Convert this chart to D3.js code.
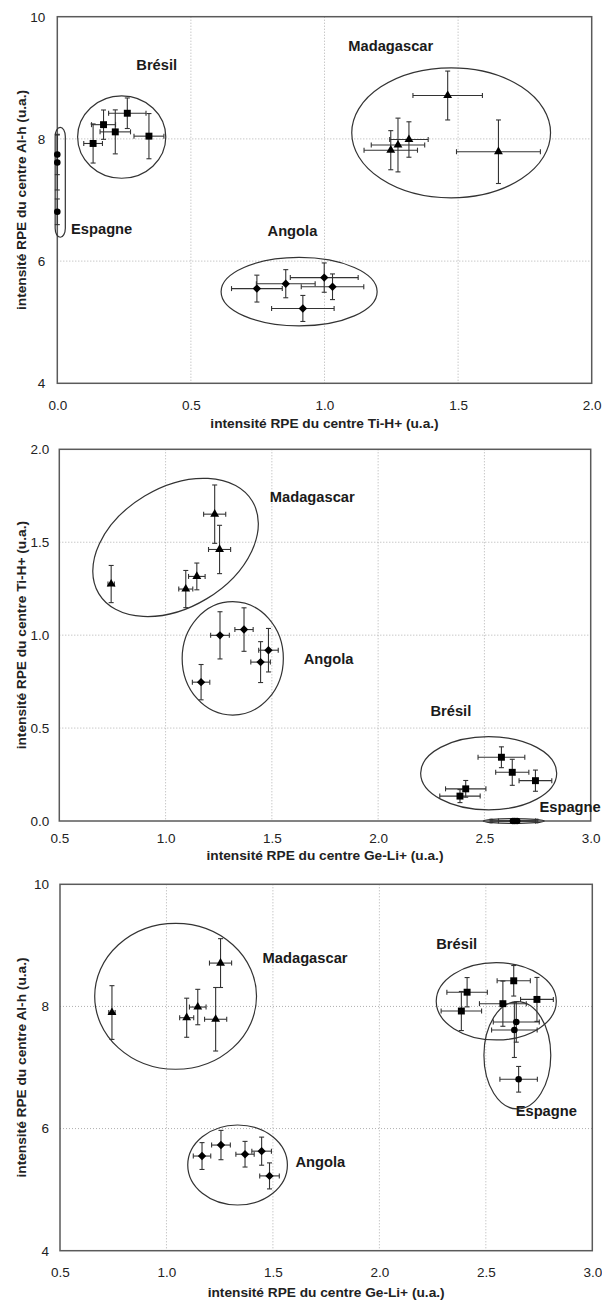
<!DOCTYPE html>
<html><head><meta charset="utf-8">
<script src="https://cdn.jsdelivr.net/npm/d3@7"></script>
<style>body{margin:0;background:#fff}svg{display:block}</style>
</head><body><svg id="c" width="602" height="1300"></svg>
<script>
// ---------- DATA ----------
const origins = ["Madagascar", "Angola", "Brésil", "Espagne"];

const madagascarGeLi    = [0.744, 1.095, 1.147, 1.231, 1.254];
const madagascarGeLiErr = [0.015, 0.033, 0.039, 0.052, 0.052];
const madagascarTiH     = [1.275, 1.248, 1.316, 1.651, 1.461];
const madagascarTiHErr  = [0.100, 0.100, 0.072, 0.157, 0.130];
const madagascarAlH     = [7.90, 7.815, 7.99, 7.79, 8.71];
const madagascarAlHErr  = [0.44, 0.32, 0.29, 0.52, 0.40];

const angolaGeLi    = [1.167, 1.256, 1.369, 1.447, 1.484];
const angolaGeLiErr = [0.041, 0.044, 0.043, 0.046, 0.046];
const angolaTiH     = [0.747, 0.999, 1.030, 0.855, 0.919];
const angolaTiHErr  = [0.095, 0.127, 0.117, 0.110, 0.117];
const angolaAlH     = [5.55, 5.73, 5.58, 5.63, 5.225];
const angolaAlHErr  = [0.22, 0.24, 0.21, 0.23, 0.213];

const bresilGeLi    = [2.385, 2.412, 2.740, 2.631, 2.580];
const bresilGeLiErr = [0.095, 0.095, 0.077, 0.078, 0.110];
const bresilTiH     = [0.134, 0.173, 0.217, 0.262, 0.343];
const bresilTiHErr  = [0.035, 0.045, 0.057, 0.070, 0.056];
const bresilAlH     = [7.925, 8.233, 8.115, 8.42, 8.045];
const bresilAlHErr  = [0.32, 0.24, 0.36, 0.25, 0.37];

const espagneGeLi    = [2.643, 2.634, 2.654];
const espagneGeLiErr = [0.108, 0.107, 0.088];
const espagneTiH     = [0.0, 0.0, 0.0];
const espagneTiHErr  = [0.0, 0.0, 0.0];
const espagneAlH     = [7.745, 7.614, 6.807];
const espagneAlHErr  = [0.33, 0.45, 0.21];

const ticksTiH  = [0, 0.5, 1.0, 1.5, 2.0];
const ticksAlH  = [4, 6, 8, 10];
const ticksGeLi = [0.5, 1.0, 1.5, 2.0, 2.5, 3.0];

const titleTiH  = "intensité RPE du centre Ti-H+ (u.a.)";
const titleAlH  = "intensité RPE du centre Al-h (u.a.)";
const titleGeLi = "intensité RPE du centre Ge-Li+ (u.a.)";

// group ellipses (data units) and group labels (data units)
const panel1Groups = [
  {origin: "Brésil",     cx: 0.241, cy: 8.03, rx: 0.165, ry: 0.674, rot: 0, shape: "ellipse", lx: 0.372, ly: 9.21},
  {origin: "Espagne",    cx: 0.011, cy: 7.29, rx: 0.019, ry: 0.90,  rot: 0, shape: "stadium", lx: 0.166, ly: 6.52},
  {origin: "Angola",     cx: 0.905, cy: 5.50, rx: 0.292, ry: 0.56,  rot: 0, shape: "ellipse", lx: 0.880, ly: 6.50},
  {origin: "Madagascar", cx: 1.474, cy: 8.10, rx: 0.372, ry: 1.064, rot: 0, shape: "ellipse", lx: 1.248, ly: 9.53}
];
const panel2Groups = [
  {origin: "Madagascar", cx: 1.047, cy: 1.472, rx: 0.4215, ry: 0.323, rot: -31, shape: "ellipse", lx: 1.69, ly: 1.742},
  {origin: "Angola",     cx: 1.316, cy: 0.875, rx: 0.238, ry: 0.305, rot: 0, shape: "ellipse", lx: 1.767, ly: 0.870},
  {origin: "Brésil",     cx: 2.520, cy: 0.257, rx: 0.320, ry: 0.197, rot: 0, shape: "ellipse", lx: 2.342, ly: 0.593},
  {origin: "Espagne",    cx: 2.638, cy: 0.0,   rx: 0.1435, ry: 0.013, rot: 0, shape: "ellipse", lx: 2.903, ly: 0.077}
];
const panel3Groups = [
  {origin: "Madagascar", cx: 1.043, cy: 8.166, rx: 0.380, ry: 1.195, rot: 0, shape: "ellipse", lx: 1.651, ly: 8.80},
  {origin: "Angola",     cx: 1.334, cy: 5.403, rx: 0.234, ry: 0.655, rot: 0, shape: "ellipse", lx: 1.723, ly: 5.447},
  {origin: "Brésil",     cx: 2.549, cy: 8.084, rx: 0.282, ry: 0.633, rot: 0, shape: "ellipse", lx: 2.363, ly: 9.017},
  {origin: "Espagne",    cx: 2.648, cy: 7.20,  rx: 0.157, ry: 0.879, rot: 0, shape: "ellipse", lx: 2.784, ly: 6.29}
];

// ---------- BUILD ----------
function build(geLi, geLiErr, tiH, tiHErr, alH, alHErr, origin) {
  return geLi.map((g, i) => ({origin, geLi: g, geLiErr: geLiErr[i], tiH: tiH[i], tiHErr: tiHErr[i], alH: alH[i], alHErr: alHErr[i]}));
}
const samples = [].concat(
  build(madagascarGeLi, madagascarGeLiErr, madagascarTiH, madagascarTiHErr, madagascarAlH, madagascarAlHErr, "Madagascar"),
  build(angolaGeLi, angolaGeLiErr, angolaTiH, angolaTiHErr, angolaAlH, angolaAlHErr, "Angola"),
  build(bresilGeLi, bresilGeLiErr, bresilTiH, bresilTiHErr, bresilAlH, bresilAlHErr, "Brésil"),
  build(espagneGeLi, espagneGeLiErr, espagneTiH, espagneTiHErr, espagneAlH, espagneAlHErr, "Espagne")
);

const FONT = "'Liberation Sans', Arial, Helvetica, sans-serif";
const panels = [
  {xKey: "tiH", yKey: "alH", xDom: [0, 2], yDom: [4, 10], xTicks: ticksTiH, yTicks: ticksAlH, xFmt: d3.format(".1f"), yFmt: d3.format("d"),
   box: [57.3, 16.7, 591.7, 383.3], xLabOff: 21.7, xTitleOff: 39.7, yLabGap: 12, xTitle: titleTiH, yTitle: titleAlH, groups: panel1Groups},
  {xKey: "geLi", yKey: "tiH", xDom: [0.5, 3], yDom: [0, 2], xTicks: ticksGeLi, yTicks: ticksTiH, xFmt: d3.format(".1f"), yFmt: d3.format(".1f"),
   box: [59.3, 449.3, 590.7, 821], xLabOff: 17, xTitleOff: 34, yLabGap: 10, xTitle: titleGeLi, yTitle: titleTiH, groups: panel2Groups},
  {xKey: "geLi", yKey: "alH", xDom: [0.5, 3], yDom: [4, 10], xTicks: ticksGeLi, yTicks: ticksAlH, xFmt: d3.format(".1f"), yFmt: d3.format("d"),
   box: [60, 884.3, 592.3, 1250.7], xLabOff: 21.8, xTitleOff: 41.5, yLabGap: 11, xTitle: titleGeLi, yTitle: titleAlH, groups: panel3Groups}
];

const svg = d3.select("#c");
const symbolFor = {
  "Madagascar": d3.symbol(d3.symbolTriangle, 34)(),
  "Brésil": d3.symbol(d3.symbolSquare, 48)(),
  "Espagne": d3.symbol(d3.symbolCircle, 34)(),
  "Angola": "M0,-4.2L4.2,0L0,4.2L-4.2,0Z"
};

panels.forEach(p => {
  const [L, T, R, B] = p.box;
  const x = d3.scaleLinear().domain(p.xDom).range([L, R]);
  const y = d3.scaleLinear().domain(p.yDom).range([B, T]);
  const g = svg.append("g");

  // grid
  g.append("g").selectAll("line").data(p.xTicks.filter(t => t > p.xDom[0] && t < p.xDom[1])).join("line")
    .attr("x1", d => x(d)).attr("x2", d => x(d)).attr("y1", T).attr("y2", B)
    .attr("stroke", "#b0b0b0").attr("stroke-width", 1).attr("stroke-dasharray", "1,2");
  g.append("g").selectAll("line").data(p.yTicks.filter(t => t > p.yDom[0] && t < p.yDom[1])).join("line")
    .attr("x1", L).attr("x2", R).attr("y1", d => y(d)).attr("y2", d => y(d))
    .attr("stroke", "#b0b0b0").attr("stroke-width", 1).attr("stroke-dasharray", "1,2");

  // frame
  g.append("rect").attr("x", L).attr("y", T).attr("width", R - L).attr("height", B - T)
    .attr("fill", "none").attr("stroke", "#5a5a5a").attr("stroke-width", 1.5);

  // axes
  const xa = g.append("g").attr("transform", `translate(0,${B})`)
    .call(d3.axisBottom(x).tickValues(p.xTicks).tickFormat(p.xFmt).tickSize(0));
  xa.select(".domain").remove();
  xa.selectAll("text").attr("y", p.xLabOff).attr("dy", "0.35em")
    .attr("font-family", FONT).attr("font-size", 13.5).attr("fill", "#222");
  const ya = g.append("g").attr("transform", `translate(${L},0)`)
    .call(d3.axisLeft(y).tickValues(p.yTicks).tickFormat(p.yFmt).tickSize(0).tickPadding(p.yLabGap));
  ya.select(".domain").remove();
  ya.selectAll("text").attr("font-family", FONT).attr("font-size", 13.5).attr("fill", "#222");

  // titles
  g.append("text").attr("x", (L + R) / 2).attr("y", B + p.xTitleOff).attr("dy", "0.35em")
    .attr("text-anchor", "middle").attr("font-family", FONT).attr("font-weight", "bold")
    .attr("font-size", 13.7).attr("fill", "#222").text(p.xTitle);
  g.append("text").attr("transform", `translate(21,${(T + B) / 2}) rotate(-90)`).attr("dy", "0.35em")
    .attr("text-anchor", "middle").attr("font-family", FONT).attr("font-weight", "bold")
    .attr("font-size", 13.7).attr("fill", "#222").text(p.yTitle);

  // group outlines
  p.groups.forEach(e => {
    const cx = x(e.cx), cy = y(e.cy);
    const rx = x(e.cx + e.rx) - x(e.cx), ry = y(e.cy) - y(e.cy + e.ry);
    if (e.shape === "stadium") {
      g.append("rect").attr("x", cx - rx).attr("y", cy - ry).attr("width", 2 * rx).attr("height", 2 * ry)
        .attr("rx", Math.min(rx, ry)).attr("ry", Math.min(rx, ry) * 1.8)
        .attr("fill", "none").attr("stroke", "#333").attr("stroke-width", 1.2);
    } else {
      g.append("ellipse").attr("cx", 0).attr("cy", 0).attr("rx", rx).attr("ry", ry)
        .attr("transform", `translate(${cx},${cy}) rotate(${e.rot})`)
        .attr("fill", "none").attr("stroke", "#333").attr("stroke-width", 1.2);
    }
    g.append("text").attr("x", x(e.lx)).attr("y", y(e.ly)).attr("dy", "0.35em")
      .attr("text-anchor", "middle").attr("font-family", FONT).attr("font-weight", "bold")
      .attr("font-size", 14.7).attr("fill", "#1a1a1a").text(e.origin);
  });

  // error bars
  const cap = 2.5;
  const eb = g.append("g").attr("stroke", "#333").attr("stroke-width", 1.1);
  samples.forEach(s => {
    const px = x(s[p.xKey]), py = y(s[p.yKey]);
    const ex = s[p.xKey + "Err"], ey = s[p.yKey + "Err"];
    if (ex > 0) {
      const x1 = x(s[p.xKey] - ex), x2 = x(s[p.xKey] + ex);
      eb.append("line").attr("x1", x1).attr("x2", x2).attr("y1", py).attr("y2", py);
      eb.append("line").attr("x1", x1).attr("x2", x1).attr("y1", py - cap).attr("y2", py + cap);
      eb.append("line").attr("x1", x2).attr("x2", x2).attr("y1", py - cap).attr("y2", py + cap);
    }
    if (ey > 0) {
      const y1 = y(s[p.yKey] - ey), y2 = y(s[p.yKey] + ey);
      eb.append("line").attr("x1", px).attr("x2", px).attr("y1", y1).attr("y2", y2);
      eb.append("line").attr("x1", px - cap).attr("x2", px + cap).attr("y1", y1).attr("y2", y1);
      eb.append("line").attr("x1", px - cap).attr("x2", px + cap).attr("y1", y2).attr("y2", y2);
    }
  });

  // markers
  g.append("g").selectAll("path").data(samples).join("path")
    .attr("transform", d => `translate(${x(d[p.xKey])},${y(d[p.yKey])})`)
    .attr("d", d => symbolFor[d.origin]).attr("fill", "#000");
});
</script>
</body></html>
